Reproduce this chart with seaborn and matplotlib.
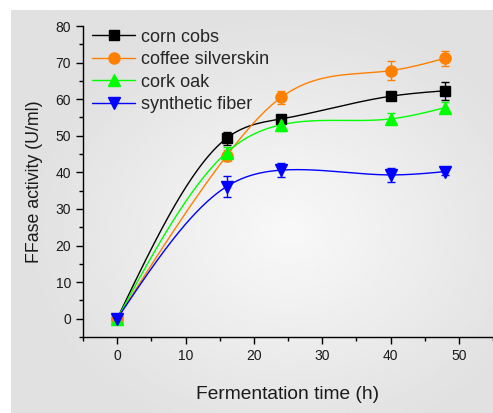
import numpy as np
import pandas as pd
import matplotlib
matplotlib.use("Agg")
import matplotlib.pyplot as plt
from matplotlib.lines import Line2D
import seaborn as sns

# ---- data ----
time_h = [0, 16, 24, 40, 48]
series_names = ["corn cobs", "coffee silverskin", "cork oak", "synthetic fiber"]
corn_cobs = [0, 49.3, 54.6, 60.8, 62.3]
corn_cobs_err = [0.5, 1.8, 1.0, 0.8, 2.5]
coffee_silverskin = [0, 44.5, 60.5, 67.8, 71.2]
coffee_silverskin_err = [0.5, 1.5, 1.8, 2.6, 2.1]
cork_oak = [0, 45.4, 53.0, 54.6, 57.7]
cork_oak_err = [0.5, 1.5, 1.8, 1.5, 1.6]
synthetic_fiber = [0, 36.1, 40.6, 39.3, 40.2]
synthetic_fiber_err = [0.5, 2.8, 2.0, 2.0, 1.0]

colors = ["#000000", "#ff8000", "#00ff00", "#0000ff"]
markers = ["s", "o", "^", "v"]
msizes = [7, 8, 8.5, 8.5]

values = [corn_cobs, coffee_silverskin, cork_oak, synthetic_fiber]
errors = [corn_cobs_err, coffee_silverskin_err, cork_oak_err, synthetic_fiber_err]


def natural_spline(x, y, n=300):
    x = np.asarray(x, float)
    y = np.asarray(y, float)
    k = len(x)
    h = np.diff(x)
    A = np.zeros((k, k))
    r = np.zeros(k)
    A[0, 0] = A[-1, -1] = 1
    for i in range(1, k - 1):
        A[i, i - 1] = h[i - 1]
        A[i, i] = 2 * (h[i - 1] + h[i])
        A[i, i + 1] = h[i]
        r[i] = 6 * ((y[i + 1] - y[i]) / h[i] - (y[i] - y[i - 1]) / h[i - 1])
    M = np.linalg.solve(A, r)
    xs = np.linspace(x[0], x[-1], n)
    ys = np.empty_like(xs)
    for j, t in enumerate(xs):
        i = min(np.searchsorted(x, t, side="right") - 1, k - 2)
        a, b = x[i], x[i + 1]
        hh = b - a
        ys[j] = (M[i] * (b - t) ** 3 / (6 * hh) + M[i + 1] * (t - a) ** 3 / (6 * hh)
                 + (y[i] / hh - M[i] * hh / 6) * (b - t)
                 + (y[i + 1] / hh - M[i + 1] * hh / 6) * (t - a))
    return xs, ys


sns.set_style("ticks")
plt.rcParams["font.family"] = ["Liberation Sans", "DejaVu Sans"]

fig = plt.figure(figsize=(4.93, 4.13), dpi=100)
fig.patch.set_facecolor("white")

# gray gradient panel
bg = fig.add_axes([11 / 493, 0, 1 - 11 / 493, 1 - 10 / 413], zorder=-10)
gx, gy = np.meshgrid(np.linspace(-1, 1, 200), np.linspace(-1, 1, 200))
cx, cy = 0.15, 0.1
d = np.sqrt(((gx - cx) / 1.1) ** 2 + ((gy - cy) / 1.1) ** 2)
d = np.clip(d, 0, 1)
img = 0.975 - 0.095 * d
bg.imshow(img, cmap="gray", vmin=0, vmax=1, aspect="auto",
          extent=[0, 1, 0, 1], interpolation="bilinear")
bg.set_axis_off()

ax = fig.add_axes([83 / 493, 76 / 413, 1 - 83 / 493, (387 - 76) / 413])
ax.set_facecolor("none")

for name, vals, errs, c, m, ms in zip(series_names, values, errors, colors, markers, msizes):
    xs, ys = natural_spline(time_h, vals)
    df = pd.DataFrame({"x": xs, "y": ys})
    sns.lineplot(data=df, x="x", y="y", ax=ax, color=c, lw=1.0,
                 estimator=None, sort=False)
    ax.errorbar(time_h, vals, yerr=errs, fmt=m, color=c, ms=ms,
                capsize=3, elinewidth=1.0, capthick=1.0, mec=c, zorder=3)

ax.set_xlim(-5, 55)
ax.set_ylim(-5, 80)
ax.set_xticks([0, 10, 20, 30, 40, 50])
ax.set_xticks([-5, 5, 15, 25, 35, 45, 55], minor=True)
ax.set_yticks(range(0, 81, 10))
ax.set_yticks(range(-5, 80, 10), minor=True)
ax.tick_params(axis="both", which="major", length=5, width=1, labelsize=10,
               color="black", labelcolor="#1a1a1a", direction="out")
ax.tick_params(axis="both", which="minor", length=3, width=1, color="black",
               direction="out")
for s in ["top", "right"]:
    ax.spines[s].set_visible(False)
for s in ["left", "bottom"]:
    ax.spines[s].set_color("black")
    ax.spines[s].set_linewidth(1.0)

ax.set_xlabel("Fermentation time (h)", fontsize=13.8, labelpad=17, color="#1a1a1a")
ax.set_ylabel("FFase activity (U/ml)", fontsize=12.8, labelpad=9, color="#1a1a1a")

handles = [Line2D([0], [0], color=c, marker=m, ms=ms, lw=1.0, mec=c)
           for c, m, ms in zip(colors, markers, msizes)]
ax.legend(handles, series_names, loc="upper left", frameon=False, fontsize=13,
          bbox_to_anchor=(0.0, 1.02), handlelength=2.4, handletextpad=0.3,
          labelspacing=0.3, borderaxespad=0.2, borderpad=0.3)

fig.savefig("out.png", dpi=100)
